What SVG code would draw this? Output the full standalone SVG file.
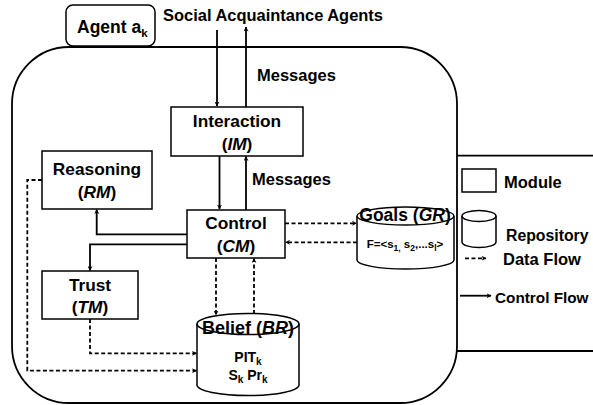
<svg xmlns="http://www.w3.org/2000/svg" width="593" height="405" viewBox="0 0 593 405">
<defs>
<style>
text{font-family:"Liberation Sans",Arial,sans-serif;font-weight:bold;fill:#000;}
.t{font-size:16.5px;}
.m{font-size:17.3px;}
.s{font-size:11.5px;}
.box{fill:#fff;stroke:#000;stroke-width:1.5;}
.ln{fill:none;stroke:#000;stroke-width:1.8;}
.da{fill:none;stroke:#000;stroke-width:1.8;stroke-dasharray:4 2.5;}
.cyl{fill:#fff;stroke:#000;stroke-width:1.5;}
</style>
<marker id="ah" viewBox="0 0 10 10" refX="9" refY="5" markerWidth="5" markerHeight="5" orient="auto" markerUnits="userSpaceOnUse">
<path d="M0,0 L10,5 L0,10 L3,5 Z" fill="#000"/>
</marker>
</defs>
<rect width="593" height="405" fill="#fff"/>

<g id="agent-frame">
<rect x="12" y="47" width="445" height="356" rx="57" ry="57" fill="none" stroke="#000" stroke-width="1.8"/>
</g>
<g id="agent-label">
<rect x="66" y="5" width="89" height="41" rx="7" ry="7" class="box"/>
<text font-size="17.5" x="77" y="33">Agent a<tspan font-size="11.5" dy="4">k</tspan></text>
</g>
<g id="social">
<text class="t" x="163" y="21" textLength="220" lengthAdjust="spacingAndGlyphs">Social Acquaintance Agents</text>
</g>

<g id="legend">
<line x1="457" y1="155.7" x2="593" y2="155.7" stroke="#000" stroke-width="1.8"/>
<line x1="457" y1="351" x2="593" y2="351" stroke="#000" stroke-width="1.8"/>
<rect x="462" y="169" width="34" height="23" class="box"/>
<text class="t" x="504" y="188">Module</text>
<path d="M462,216 L462,242 A17,5.5 0 0 0 496,242 L496,216" class="cyl"/>
<ellipse cx="479" cy="216" rx="17" ry="5.5" class="cyl"/>
<text font-size="15.8" x="506" y="241">Repository</text>
<line x1="465" y1="258.3" x2="486" y2="258.3" class="da" marker-end="url(#ah)"/>
<text class="t" x="503" y="265">Data Flow</text>
<line x1="460" y1="295.7" x2="491" y2="295.7" class="ln" marker-end="url(#ah)"/>
<text font-size="15.3" x="495" y="303">Control Flow</text>
</g>

<g id="interaction">
<rect x="171" y="107" width="132" height="49" class="box"/>
<text class="m" x="237" y="127" text-anchor="middle">Interaction</text>
<text class="m" x="237" y="150" text-anchor="middle">(<tspan font-style="italic">IM</tspan>)</text>
</g>
<g id="reasoning">
<rect x="42" y="151" width="110" height="58" class="box"/>
<text class="m" x="97" y="175" text-anchor="middle">Reasoning</text>
<text class="m" x="97" y="198" text-anchor="middle">(<tspan font-style="italic">RM</tspan>)</text>
</g>
<g id="control">
<rect x="187" y="210" width="98" height="48" class="box"/>
<text class="m" x="236" y="229" text-anchor="middle">Control</text>
<text class="m" x="236" y="252" text-anchor="middle">(<tspan font-style="italic">CM</tspan>)</text>
</g>
<g id="trust">
<rect x="42" y="271" width="96" height="48" class="box"/>
<text class="m" x="90" y="291" text-anchor="middle">Trust</text>
<text class="m" x="90" y="313" text-anchor="middle">(<tspan font-style="italic">TM</tspan>)</text>
</g>
<g id="goals">
<path d="M357,216 L357,260 A48.5,9 0 0 0 454,260 L454,216" class="cyl"/>
<ellipse cx="405.5" cy="216" rx="48.5" ry="9" class="cyl"/>
<text font-size="17.5" x="405" y="221" text-anchor="middle">Goals (<tspan font-style="italic">GR</tspan>)</text>
<text class="s" x="405" y="248" text-anchor="middle">F=&lt;s<tspan font-size="8.5" dy="3">1,</tspan><tspan dy="-3"> s</tspan><tspan font-size="8.5" dy="3">2</tspan><tspan dy="-3">,...s</tspan><tspan font-size="8.5" dy="3">l</tspan><tspan dy="-3">&gt;</tspan></text>
</g>
<g id="belief">
<path d="M197,324 L197,385 A51,10.5 0 0 0 299,385 L299,324" class="cyl"/>
<ellipse cx="248" cy="324" rx="51" ry="10.5" class="cyl"/>
<text font-size="18" x="248" y="334" text-anchor="middle">Belief (<tspan font-style="italic">BR</tspan>)</text>
<text font-size="14" x="248" y="362" text-anchor="middle">PIT<tspan font-size="10" dy="3">k</tspan></text>
<text font-size="14" x="248" y="380" text-anchor="middle">S<tspan font-size="10" dy="3">k</tspan><tspan dy="-3">  Pr</tspan><tspan font-size="10" dy="3">k</tspan></text>
</g>

<g id="connectors">
<line x1="217" y1="30" x2="217" y2="106" class="ln" marker-end="url(#ah)"/>
<line x1="246" y1="107" x2="246" y2="27" class="ln" marker-end="url(#ah)"/>
<text class="t" x="257" y="81">Messages</text>
<line x1="219.5" y1="156" x2="219.5" y2="209" class="ln" marker-end="url(#ah)"/>
<line x1="246" y1="210" x2="246" y2="156.5" class="ln" marker-end="url(#ah)"/>
<text class="t" x="252" y="185">Messages</text>
<polyline points="187,234.3 96.7,234.3 96.7,209.5" class="ln" marker-end="url(#ah)"/>
<polyline points="187,244.3 90,244.3 90,270.5" class="ln" marker-end="url(#ah)"/>
<line x1="285" y1="223.3" x2="356.5" y2="223.3" class="da" marker-end="url(#ah)"/>
<line x1="357" y1="242.3" x2="285.5" y2="242.3" class="da" marker-end="url(#ah)"/>
<line x1="216" y1="258" x2="216" y2="315" class="da" marker-end="url(#ah)"/>
<line x1="254" y1="314" x2="254" y2="258.5" class="da" marker-end="url(#ah)"/>
<polyline points="42,180 27.3,180 27.3,370.7 196.5,370.7" class="da" marker-end="url(#ah)"/>
<polyline points="90,319 90,353.3 196.5,353.3" class="da" marker-end="url(#ah)"/>
</g>
</svg>
